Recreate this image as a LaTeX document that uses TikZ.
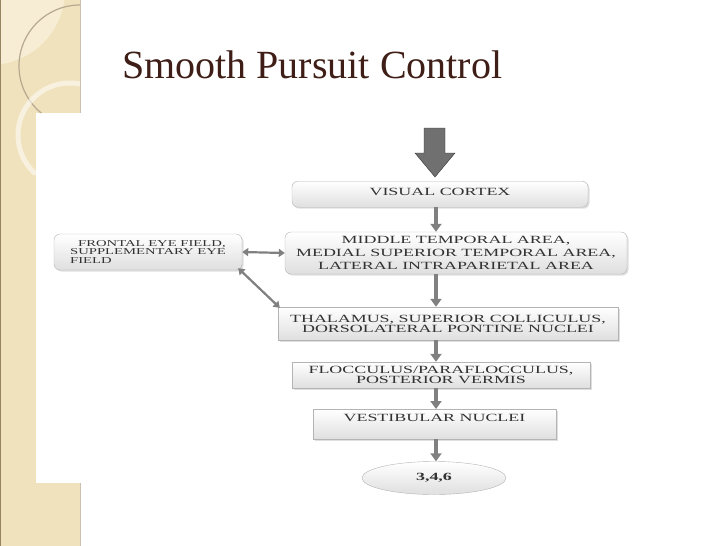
\documentclass[tikz,border=0pt]{standalone}
\usepackage{fontspec}
\setmainfont{Liberation Serif}
\newfontfamily\flowfont[FakeStretch=1.63]{Liberation Serif}
\usetikzlibrary{arrows.meta,shadows,shapes.geometric}

\definecolor{slidetan}{RGB}{240,226,188}
\definecolor{tanlight}{RGB}{246,237,212}
\definecolor{tanedge}{RGB}{150,132,96}
\definecolor{titlebrown}{RGB}{62,30,22}
\definecolor{boxline}{RGB}{180,180,180}
\definecolor{boxtext}{RGB}{50,50,50}
\definecolor{flowgray}{RGB}{128,128,128}

\begin{document}
\begin{tikzpicture}[x=1pt, y=-1pt,
    box_format/.style={draw=boxline, top color=white, bottom color=gray!25,
      drop shadow={opacity=0.25, shadow xshift=1.5pt, shadow yshift=-1.5pt},
      align=center, text=boxtext, inner sep=3pt,
      font=\flowfont\fontsize{11}{10}\selectfont},
    round_box/.style={box_format, rounded corners=6pt},
    flow_arrow/.style={draw=flowgray, line width=3.5pt, -{Triangle[length=8pt, width=11pt]}},
    link_arrow/.style={draw=flowgray, line width=2.2pt,
      {Triangle[length=6pt, width=8pt]}-{Triangle[length=6pt, width=8pt]}},
    ]
    \useasboundingbox (0,0) rectangle (728,546);

    % --- Slide border on the left ---
    \fill[slidetan] (0,0) rectangle (80,113);
    \fill[slidetan] (0,113) rectangle (36,483);
    \fill[slidetan] (0,483) rectangle (80,546);
    \begin{scope}
      \clip (0,0) rectangle (80,113) (0,113) rectangle (36,175);
      \fill[tanlight] (-10,-10) circle (75);
      \draw[tanedge!70, line width=1.2pt] (80,66) circle (61);
      \draw[white, opacity=0.55, line width=5pt] (70,135) circle (52);
    \end{scope}
    \draw[tanedge] (0.5,0) -- (0.5,546);
    \draw[tanedge!50] (80,0) -- (80,113);
    \draw[tanedge!50] (80,483) -- (80,546);

    % --- Title ---
    \node[anchor=base west, inner sep=0, text=titlebrown,
      font=\fontsize{40}{40}\selectfont] (title) at (122,78) {Smooth Pursuit Control};

    % --- Boxes of the flow ---
    \node[round_box, minimum width=296, text height=11pt, text depth=9pt,
      anchor=north] (vis) at (440,181) {VISUAL CORTEX};
    \node[round_box, minimum width=342, minimum height=42,
      font=\flowfont\fontsize{11}{13}\selectfont] (mta) at (456,253) {
      MIDDLE TEMPORAL AREA, \\
      MEDIAL SUPERIOR TEMPORAL AREA, \\
      LATERAL INTRAPARIETAL AREA
    };
    \node[round_box, minimum width=188, minimum height=36, align=left,
      font=\flowfont\fontsize{9}{8.5}\selectfont] (fef) at (148,252) {
      \hspace*{8pt}FRONTAL EYE FIELD, \\
      SUPPLEMENTARY EYE \\
      FIELD
    };
    \node[box_format, minimum width=340, minimum height=33] (thal) at (448,323.5) {
      THALAMUS, SUPERIOR COLLICULUS, \\
      DORSOLATERAL PONTINE NUCLEI
    };
    \node[box_format, minimum width=298, minimum height=26] (floc) at (441,375) {
      FLOCCULUS/PARAFLOCCULUS, \\
      POSTERIOR VERMIS
    };
    \node[box_format, minimum width=243, text height=9.5pt, text depth=14.5pt,
      anchor=north] (vest) at (434.5,409) {VESTIBULAR NUCLEI};
    \node[ellipse, draw=boxline, top color=white, bottom color=gray!25, text=boxtext,
      minimum width=144, minimum height=33,
      font=\flowfont\bfseries\fontsize{11}{11}\selectfont] (nerves) at (434,478) {3,4,6};

    % --- Input arrow ---
    \filldraw[draw=gray!40!black, fill={rgb,255:red,112;green,112;blue,112}]
      (424,128) -- (445,128) -- (445,153) -- (455,153) -- (435,177)
      -- (415,153) -- (424,153) -- cycle;

    % --- Connectors ---
    \coordinate (spine) at (436,0);
    \draw[flow_arrow] (vis.south -| spine) -- (mta.north -| spine);
    \draw[flow_arrow] (mta.south -| spine) -- (thal.north -| spine);
    \draw[flow_arrow] (thal.south -| spine) -- (floc.north -| spine);
    \draw[flow_arrow] (floc.south -| spine) -- (vest.north -| spine);
    \draw[flow_arrow] (vest.south -| spine) -- (nerves.north -| spine);
    \draw[link_arrow] (fef.east) -- (mta.west);
    \draw[link_arrow] ([shift={(-4,-2)}]fef.south east) -- ([shift={(2,1)}]thal.north west);

  \end{tikzpicture}
\end{document}
